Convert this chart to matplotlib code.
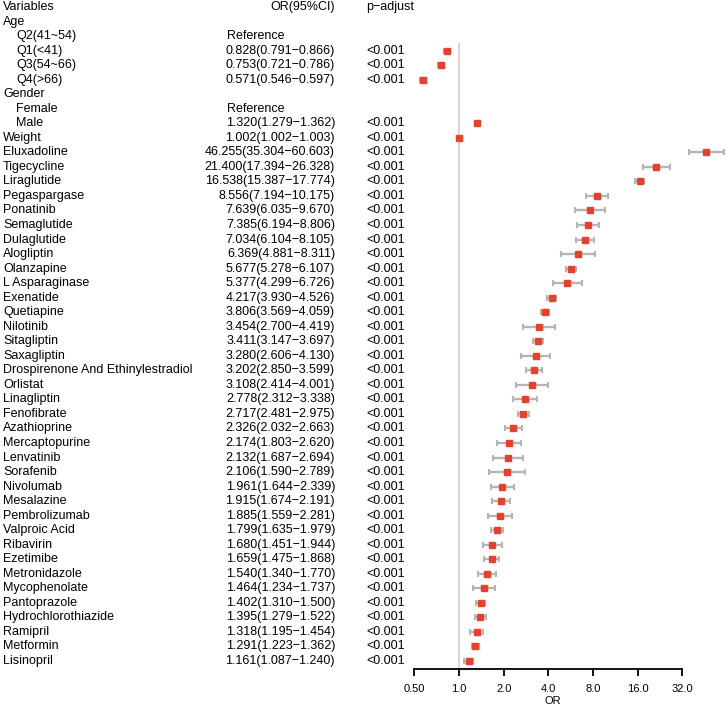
import matplotlib
matplotlib.use("Agg")
import matplotlib.pyplot as plt
import matplotlib.transforms as mtransforms
from matplotlib.ticker import FixedLocator, NullLocator

plt.rcParams['font.family'] = ['Liberation Sans', 'DejaVu Sans']

# table rows: label, indent flag, OR, lower, upper, OR text, p text
labels = ["Age", "Q2(41~54)", "Q1(<41)", "Q3(54~66)", "Q4(>66)",
          "Gender", "Female", "Male", "Weight",
          "Eluxadoline", "Tigecycline", "Liraglutide", "Pegaspargase", "Ponatinib",
          "Semaglutide", "Dulaglutide", "Alogliptin", "Olanzapine", "L Asparaginase",
          "Exenatide", "Quetiapine", "Nilotinib", "Sitagliptin", "Saxagliptin",
          "Drospirenone And Ethinylestradiol", "Orlistat", "Linagliptin", "Fenofibrate",
          "Azathioprine", "Mercaptopurine", "Lenvatinib", "Sorafenib", "Nivolumab",
          "Mesalazine", "Pembrolizumab", "Valproic Acid", "Ribavirin", "Ezetimibe",
          "Metronidazole", "Mycophenolate", "Pantoprazole", "Hydrochlorothiazide",
          "Ramipril", "Metformin", "Lisinopril"]
indented = [False, True, True, True, True, False, True, True] + [False] * 37

odds = [None, None, 0.828, 0.753, 0.571, None, None, 1.320, 1.002,
        46.255, 21.400, 16.538, 8.556, 7.639, 7.385, 7.034, 6.369, 5.677, 5.377,
        4.217, 3.806, 3.454, 3.411, 3.280, 3.202, 3.108, 2.778, 2.717, 2.326,
        2.174, 2.132, 2.106, 1.961, 1.915, 1.885, 1.799, 1.680, 1.659, 1.540,
        1.464, 1.402, 1.395, 1.318, 1.291, 1.161]
lower = [None, None, 0.791, 0.721, 0.546, None, None, 1.279, 1.002,
         35.304, 17.394, 15.387, 7.194, 6.035, 6.194, 6.104, 4.881, 5.278, 4.299,
         3.930, 3.569, 2.700, 3.147, 2.606, 2.850, 2.414, 2.312, 2.481, 2.032,
         1.803, 1.687, 1.590, 1.644, 1.674, 1.559, 1.635, 1.451, 1.475, 1.340,
         1.234, 1.310, 1.279, 1.195, 1.223, 1.087]
upper = [None, None, 0.866, 0.786, 0.597, None, None, 1.362, 1.003,
         60.603, 26.328, 17.774, 10.175, 9.670, 8.806, 8.105, 8.311, 6.107, 6.726,
         4.526, 4.059, 4.419, 3.697, 4.130, 3.599, 4.001, 3.338, 2.975, 2.663,
         2.620, 2.694, 2.789, 2.339, 2.191, 2.281, 1.979, 1.944, 1.868, 1.770,
         1.737, 1.500, 1.522, 1.454, 1.362, 1.240]
reference_rows = ["Q2(41~54)", "Female"]

ticks = [0.5, 1, 2, 4, 8, 16, 32]
tick_labels = ["0.50", "1.0", "2.0", "4.0", "8.0", "16.0", "32.0"]

W, H = 726, 707
fig = plt.figure(figsize=(W / 100, H / 100), dpi=100)

# forest panel: x from px 380 to 726, y rows
ax = fig.add_axes([380 / W, 1 - 669 / H, 346 / W, 669 / H])
ax.set_xscale('log', base=2)
ax.set_xlim(0.2937, 62.99)
ax.set_ylim(45.55, -0.48)

ax.vlines(1, 2.45, 45.55, color='#cfcfcf', lw=1.2, zorder=1)

n = len(labels)
for i in range(n):
    r = i + 1
    if odds[i] is None:
        continue
    ax.errorbar(odds[i], r, xerr=[[odds[i] - lower[i]], [upper[i] - odds[i]]],
                fmt='none', ecolor='#b5b5b5', elinewidth=1.7, capsize=2.3,
                capthick=1.5, zorder=2)
    ax.plot(odds[i], r, 's', color='#e8412b', ms=4.3, mec='#e8412b', zorder=3)

for s in ['top', 'right', 'left']:
    ax.spines[s].set_visible(False)
ax.spines['bottom'].set_bounds(0.5, 32)
ax.spines['bottom'].set_linewidth(1.3)
ax.xaxis.set_major_locator(FixedLocator(ticks))
ax.xaxis.set_minor_locator(NullLocator())
ax.set_xticklabels(tick_labels, fontsize=8)
ax.tick_params(axis='x', length=5, width=1.3, pad=6)
ax.set_yticks([])
ax.set_xlabel("OR", fontsize=8, labelpad=1)
ax.patch.set_visible(False)

# table text: x in figure pixels, y in row units
trans = mtransforms.blended_transform_factory(
    mtransforms.Affine2D().scale(1 / W, 1) + fig.transFigure, ax.transData)
fs = 9
ax.text(3, 0, "Variables", transform=trans, fontsize=fs, va='center', ha='left', clip_on=False)
ax.text(335, 0, "OR(95%CI)", transform=trans, fontsize=fs, va='center', ha='right', clip_on=False)
ax.text(366, 0, "p\u2212adjust", transform=trans, fontsize=fs, va='center', ha='left', clip_on=False)
for i in range(n):
    r = i + 1
    x0 = 16 if indented[i] else 3
    ax.text(x0, r, labels[i], transform=trans, fontsize=fs, va='center', ha='left', clip_on=False)
    if labels[i] in reference_rows:
        ax.text(227, r, "Reference", transform=trans, fontsize=fs, va='center', ha='left', clip_on=False)
    elif odds[i] is not None:
        txt = "%.3f(%.3f\u2212%.3f)" % (odds[i], lower[i], upper[i])
        ax.text(335, r, txt, transform=trans, fontsize=fs, va='center', ha='right', clip_on=False)
        ax.text(366, r, "<0.001", transform=trans, fontsize=fs, va='center', ha='left', clip_on=False)

fig.savefig("out.png", dpi=100)
